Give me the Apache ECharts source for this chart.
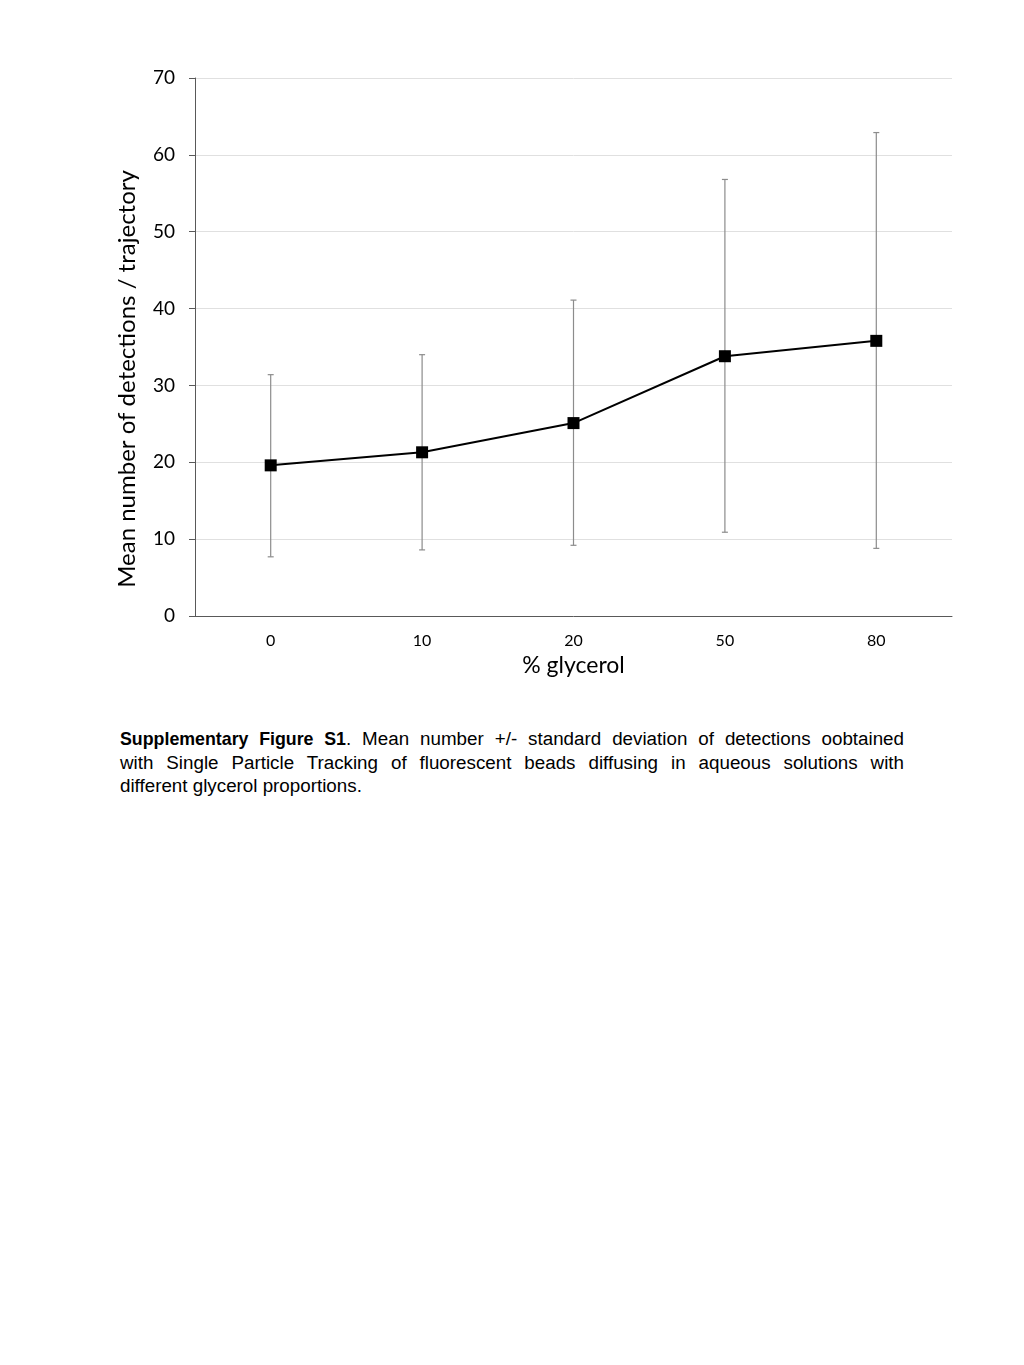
<!DOCTYPE html>
<html>
<head>
<meta charset="utf-8">
<script src="https://cdn.jsdelivr.net/npm/echarts@6/dist/echarts.min.js"></script>
<style>
html,body{margin:0;padding:0;background:#fff;}
#chart{position:absolute;left:0;top:0;width:1024px;height:720px;}
#caption{position:absolute;left:120px;top:727px;width:784px;font-family:"Liberation Sans",Arial,sans-serif;font-size:18.8px;line-height:23px;color:#000;}
#caption b{font-size:17.8px;}
#caption .j{text-align:justify;text-align-last:justify;white-space:nowrap;}
#caption .l{text-align:left;}
</style>
</head>
<body>
<div id="chart"></div>
<div id="caption">
<div class="j"><b>Supplementary Figure S1</b>. Mean number +/- standard deviation of detections oobtained</div>
<div class="j">with Single Particle Tracking of fluorescent beads diffusing in aqueous solutions with</div>
<div class="l">different glycerol proportions.</div>
</div>
<script>
const categories = ['0', '10', '20', '50', '80'];
const meanValues = [19.6, 21.3, 25.1, 33.8, 35.8];
const errLow = [7.7, 8.6, 9.2, 10.9, 8.8];
const errHigh = [31.4, 34.0, 41.1, 56.8, 62.9];
const yTicks = [0, 10, 20, 30, 40, 50, 60, 70];
const yName = 'Mean number of detections / trajectory';
const xName = '% glycerol';

const chart = echarts.init(document.getElementById('chart'));
const errData = categories.map((c, i) => [i, errLow[i], errHigh[i]]);
chart.setOption({
  animation: false,
  grid: {left: 195, right: 72, top: 78, height: 538},
  graphic: [{
    type: 'text', x: 127, y: 379, rotation: Math.PI / 2,
    style: {text: yName, fill: '#000', font: '24px Lato', align: 'center', verticalAlign: 'middle'}
  }],
  xAxis: {
    type: 'category', data: categories, boundaryGap: true,
    axisLine: {lineStyle: {color: '#595959', width: 1}},
    axisTick: {show: false},
    axisLabel: {color: '#000', fontSize: 16, fontFamily: 'Lato', margin: 17},
    name: xName, nameLocation: 'middle', nameGap: 36,
    nameTextStyle: {color: '#000', fontSize: 23, fontFamily: 'Lato'}
  },
  yAxis: {
    type: 'value', min: yTicks[0], max: yTicks[yTicks.length - 1], interval: 10,
    axisLine: {show: true, lineStyle: {color: '#595959', width: 1}},
    axisTick: {show: true, length: 6, lineStyle: {color: '#595959'}},
    splitLine: {lineStyle: {color: '#e0e0e0', width: 1}},
    axisLabel: {color: '#000', fontSize: 19, fontFamily: 'Lato', margin: 20}
  },
  series: [
    {
      type: 'custom',
      data: errData,
      z: 1,
      renderItem: function (params, api) {
        const x = api.coord([api.value(0), api.value(1)])[0];
        const lo = api.coord([api.value(0), api.value(1)])[1];
        const hi = api.coord([api.value(0), api.value(2)])[1];
        const cw = 3;
        const st = {stroke: '#8c8c8c', lineWidth: 1.2};
        return {
          type: 'group',
          children: [
            {type: 'line', shape: {x1: x, y1: lo, x2: x, y2: hi}, style: st},
            {type: 'line', shape: {x1: x - cw, y1: lo, x2: x + cw, y2: lo}, style: st},
            {type: 'line', shape: {x1: x - cw, y1: hi, x2: x + cw, y2: hi}, style: st}
          ]
        };
      }
    },
    {
      type: 'line',
      data: meanValues,
      z: 3,
      symbol: 'rect', symbolSize: 12,
      itemStyle: {color: '#000'},
      lineStyle: {color: '#000', width: 2}
    }
  ]
});
</script>
</body>
</html>
